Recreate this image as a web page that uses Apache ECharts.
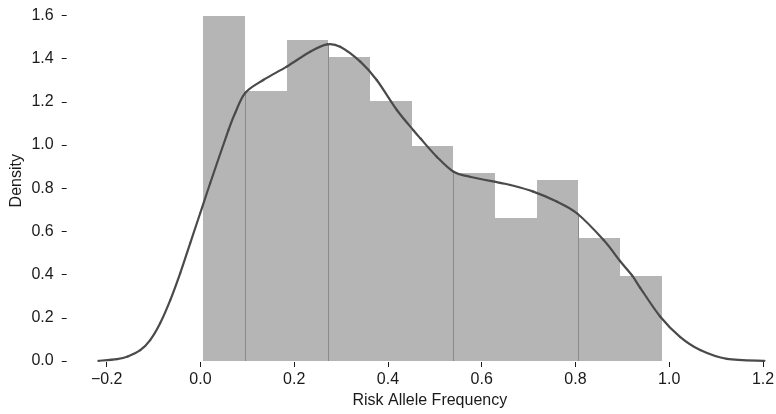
<!DOCTYPE html>
<html>
<head>
<meta charset="utf-8">
<script src="https://cdn.jsdelivr.net/npm/echarts@6/dist/echarts.min.js"></script>
<style>html,body{margin:0;padding:0;background:#fff}#c{width:776px;height:414px}</style>
</head>
<body>
<div id="c"></div>
<script>
// Histogram bins (density)
const binStart = 0.006;
const binWidth = 0.0889;
const densities = [1.597, 1.25, 1.486, 1.407, 1.204, 0.995, 0.870, 0.662, 0.838, 0.569, 0.394];

// KDE curve points [x, density]
const kdeX = [-0.2176, -0.178, -0.155, -0.1284, -0.1073, -0.086, -0.0644, -0.0433, -0.022, -0.0006, 0.0207, 0.0597, 0.074, 0.0954, 0.134, 0.184, 0.234, 0.270, 0.298, 0.341, 0.376, 0.419, 0.454, 0.469, 0.504, 0.540, 0.575, 0.639, 0.661, 0.710, 0.760, 0.803, 0.860, 0.895, 0.921, 0.938, 0.981, 1.023, 1.066, 1.123, 1.203];
const kdeY = [0.001, 0.009, 0.021, 0.050, 0.097, 0.175, 0.282, 0.406, 0.545, 0.684, 0.823, 1.069, 1.148, 1.241, 1.301, 1.363, 1.432, 1.466, 1.455, 1.386, 1.301, 1.162, 1.069, 1.031, 0.946, 0.876, 0.853, 0.825, 0.815, 0.784, 0.738, 0.684, 0.560, 0.463, 0.395, 0.339, 0.205, 0.112, 0.051, 0.010, 0.001];

// thin darker edges visible inside the histogram
const edgeX = [0.0949, 0.2728, 0.5395, 0.8062];
const edgeTop = [1.24, 1.466, 0.876, 0.684];

const axisLabels = { xName: 'Risk Allele Frequency', yName: 'Density' };

const barData = densities.map((d, i) => [binStart + i * binWidth, binStart + (i + 1) * binWidth, d]);
const kdeData = kdeX.map((x, i) => [x, kdeY[i]]);
const edgeData = edgeX.map((x, i) => [x, edgeTop[i]]);

const font = 'Liberation Sans, Arial, sans-serif';
const chart = echarts.init(document.getElementById('c'), null, { renderer: 'canvas' });
chart.setOption({
  animation: false,
  backgroundColor: '#fff',
  grid: { left: 106.7, right: 13, top: 15.4, bottom: 53, containLabel: false, outerBoundsMode: 'none' },
  xAxis: {
    type: 'value', min: -0.2, max: 1.2, interval: 0.2, offset: 1,
    name: axisLabels.xName, nameLocation: 'middle', nameGap: 31, nameMoveOverlap: false,
    nameTextStyle: { fontFamily: font, fontSize: 16, color: '#1a1a1a', padding: [0, 10, 0, 0] },
    axisLine: { show: false, onZero: false },
    axisTick: { show: true, length: 5, lineStyle: { color: '#1a1a1a', width: 1 } },
    axisLabel: { fontFamily: font, fontSize: 16, color: '#1a1a1a', margin: 10,
      formatter: v => v.toFixed(1).replace('-', '\u2212') },
    splitLine: { show: false }
  },
  yAxis: {
    type: 'value', min: 0, max: 1.6, interval: 0.2, offset: 40,
    name: axisLabels.yName, nameLocation: 'middle', nameGap: 42, nameMoveOverlap: false,
    nameTextStyle: { fontFamily: font, fontSize: 16, color: '#1a1a1a', padding: [0, 0, 0, 15] },
    axisLine: { show: false, onZero: false },
    axisTick: { show: true, length: 5, lineStyle: { color: '#1a1a1a', width: 1 } },
    axisLabel: { fontFamily: font, fontSize: 16, color: '#1a1a1a', margin: 13,
      formatter: v => v.toFixed(1) },
    splitLine: { show: false }
  },
  series: [
    {
      type: 'custom', data: barData, encode: { x: [0, 1], y: 2 }, z: 1,
      renderItem: (params, api) => {
        const p0 = api.coord([api.value(0), api.value(2)]);
        const p1 = api.coord([api.value(1), 0]);
        const x0 = Math.round(p0[0]), x1 = Math.round(p1[0]);
        const y0 = Math.round(p0[1]), y1 = Math.round(p1[1]);
        return { type: 'rect', shape: { x: x0, y: y0, width: x1 - x0, height: y1 - y0 },
          style: { fill: '#b5b5b5' } };
      }
    },
    {
      type: 'custom', data: edgeData, encode: { x: 0, y: 1 }, z: 2,
      renderItem: (params, api) => {
        const a = api.coord([api.value(0), 0]);
        const b = api.coord([api.value(0), api.value(1)]);
        return { type: 'line', shape: { x1: Math.round(a[0]) + 0.5, y1: Math.round(a[1]), x2: Math.round(a[0]) + 0.5, y2: b[1] },
          style: { stroke: '#8a8a8a', lineWidth: 1 } };
      }
    },
    {
      // KDE curve: Catmull-Rom spline through the points, via the axis scales
      type: 'custom', data: kdeData, encode: { x: 0, y: 1 }, z: 3,
      renderItem: (params, api) => {
        const i = params.dataIndex;
        const n = kdeData.length;
        if (i >= n - 1) return null;
        const P = k => api.coord(kdeData[Math.max(0, Math.min(n - 1, k))]);
        const p0 = P(i - 1), p1 = P(i), p2 = P(i + 1), p3 = P(i + 2);
        return {
          type: 'bezierCurve',
          shape: {
            x1: p1[0], y1: p1[1], x2: p2[0], y2: p2[1],
            cpx1: p1[0] + (p2[0] - p0[0]) / 6, cpy1: p1[1] + (p2[1] - p0[1]) / 6,
            cpx2: p2[0] - (p3[0] - p1[0]) / 6, cpy2: p2[1] - (p3[1] - p1[1]) / 6
          },
          style: { stroke: '#4a4a4a', lineWidth: 2.2, fill: null, lineCap: 'round' }
        };
      }
    }
  ]
});
</script>
</body>
</html>
